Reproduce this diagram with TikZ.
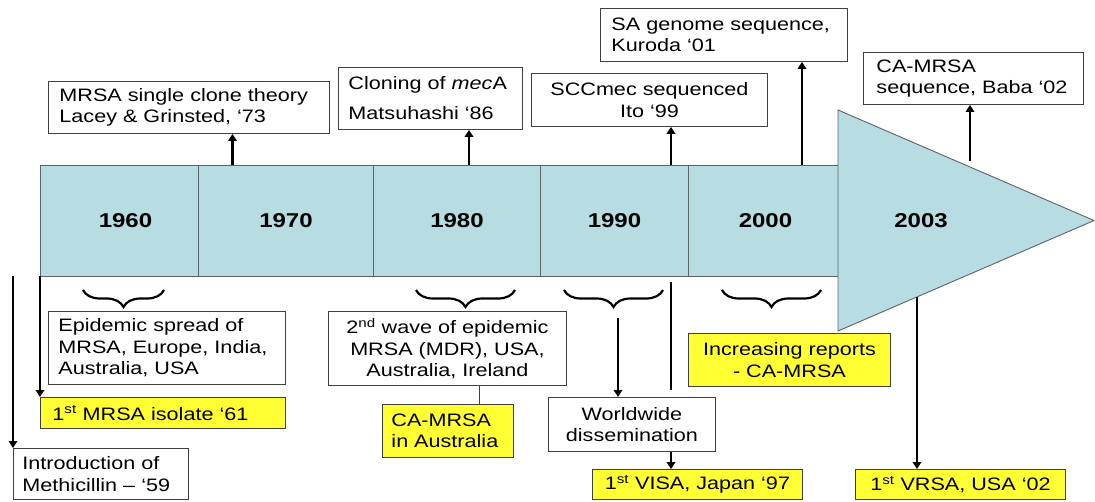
\documentclass[tikz,border=0pt]{standalone}
\usepackage{fontspec}
\setmainfont{Liberation Sans}[FakeStretch=1.2]
\usetikzlibrary{arrows.meta,decorations.pathreplacing}
\definecolor{band}{RGB}{183,221,226}
\definecolor{hl}{RGB}{255,255,51}
\definecolor{edge}{RGB}{64,64,64}
\definecolor{bandedge}{RGB}{90,100,105}
\newcommand{\txtfont}{\fontsize{18}{21.5}\selectfont}
\newcommand{\yrfont}{\fontsize{20}{24}\selectfont\bfseries}
\begin{document}
\begin{tikzpicture}[x=1pt,y=-1pt,
 box/.style={draw=edge, line width=0.9pt, fill=white, inner ysep=0pt, font=\txtfont, anchor=north west},
 hlbox/.style={box, fill=hl},
 seg/.style={draw=bandedge, line width=0.9pt, fill=band, anchor=north west, minimum height=111pt, inner sep=0pt, font=\yrfont},
 conn/.style={line width=2.7pt, -{Triangle[length=7pt,width=8.5pt]}},
 plainline/.style={line width=2.7pt},
 thinline/.style={line width=1pt, draw=edge},
 brc/.style={decorate, decoration={brace, amplitude=17pt, mirror}, line width=2.2pt}
]
\useasboundingbox (0,0) rectangle (1095,501);
% timeline band
\node[seg, minimum width=158pt] (s60) at (40,165) {\hspace*{12pt}1960};
\node[seg, minimum width=175pt] (s70) at (198,165) {1970};
\node[seg, minimum width=167pt] (s80) at (373,165) {1980};
\node[seg, minimum width=148pt] (s90) at (540,165) {1990};
\node[seg, minimum width=150pt] (s00) at (688,165) {\hspace*{4pt}2000};
\coordinate (h1) at (838,110);
\coordinate (h2) at (1094,220.5);
\coordinate (h3) at (838,331);
\draw[draw=bandedge, fill=band, line width=0.9pt] (h1) -- (h2) -- (h3) -- cycle;
\node[font=\yrfont] (y03) at (921,220.5) {2003};
% top boxes
\node[box, text width=259pt, inner xsep=11pt, minimum height=52pt, align=left] (A) at (48,81) {MRSA single clone theory\\Lacey \& Grinsted, ‘73};
\node[box, text width=164pt, inner xsep=10pt, minimum height=62pt, align=left] (B) at (338,67) {Cloning of \textit{mec}A\\[8.5pt]Matsuhashi ‘86};
\node[box, text width=216pt, inner xsep=10pt, minimum height=53pt, align=center] (C) at (531,73) {SCCmec sequenced\\Ito ‘99};
\node[box, text width=225pt, inner xsep=11pt, minimum height=53pt, align=left] (D) at (600,8) {SA genome sequence,\\Kuroda ‘01};
\node[box, text width=194pt, inner xsep=13pt, minimum height=52pt, align=left] (E) at (863,52) {CA-MRSA\\sequence, Baba ‘02};
% bottom boxes
\node[box, text width=217pt, inner xsep=10pt, minimum height=73pt, align=left] (F) at (48,311) {Epidemic spread of\\MRSA, Europe, India,\\Australia, USA};
\node[hlbox, text width=221pt, inner xsep=12pt, minimum height=31pt, align=left] (G) at (40,397) {1\textsuperscript{st} MRSA isolate ‘61};
\node[box, text width=157pt, inner xsep=9pt, minimum height=51pt, align=left] (H) at (13,448) {Introduction of\\Methicillin – ‘59};
\node[box, text width=222pt, inner xsep=8pt, minimum height=74pt, align=center] (I) at (328,311) {2\textsuperscript{nd} wave of epidemic\\MRSA (MDR), USA,\\Australia, Ireland};
\node[hlbox, text width=113pt, inner xsep=9pt, minimum height=53pt, align=left] (J) at (382,404) {CA-MRSA\\in Australia};
\node[box, text width=151pt, inner xsep=8pt, minimum height=54pt, align=center] (K) at (548,397) {Worldwide\\dissemination};
\node[hlbox, text width=194pt, inner xsep=8pt, minimum height=30pt, align=center] (L) at (592,469) {1\textsuperscript{st} VISA, Japan ‘97};
\node[hlbox, text width=186pt, inner xsep=8pt, minimum height=53pt, align=center] (M) at (688,333) {Increasing reports\\- CA-MRSA};
\node[hlbox, text width=194pt, inner xsep=8pt, minimum height=30pt, align=center] (N) at (855,469) {1\textsuperscript{st} VRSA, USA ‘02};
% braces
\draw[brc] (83,290) -- (164,290);
\draw[brc] (416,290) -- (515,290);
\draw[brc] (564,290) -- (663,290);
\draw[brc] (722,290) -- (821,290);
% connectors up
\coordinate (p73) at (232.5,165);
\coordinate (p86) at (469,165);
\coordinate (p99) at (671,165);
\coordinate (p01) at (802,165);
\coordinate (p02) at (970,161);
\draw[conn] (p73) -- (p73 |- A.south);
\draw[conn] (p86) -- (p86 |- B.south);
\draw[conn] (p99) -- (p99 |- C.south);
\draw[conn] (p01) -- (p01 |- D.south);
\draw[conn] (p02) -- (p02 |- E.south);
% connectors down
\coordinate (p61) at (40,276);
\coordinate (p59) at (13,276);
\draw[conn] (p61) -- (G.north west);
\draw[conn] (p59) -- (H.north west);
\draw[thinline] ([xshift=32pt]I.south) -- ([xshift=32pt]I.south |- J.north);
\coordinate (w1) at (618,318);
\draw[conn] (w1) -- (w1 |- K.north);
\coordinate (v1) at (671,282);
\coordinate (v2) at (671,390);
\draw[plainline] (v1) -- (v2);
\draw[conn] (v2 |- K.south) -- (v2 |- L.north);
\coordinate (r1) at (917,297);
\draw[conn] (r1) -- (r1 |- N.north);
\end{tikzpicture}
\end{document}
